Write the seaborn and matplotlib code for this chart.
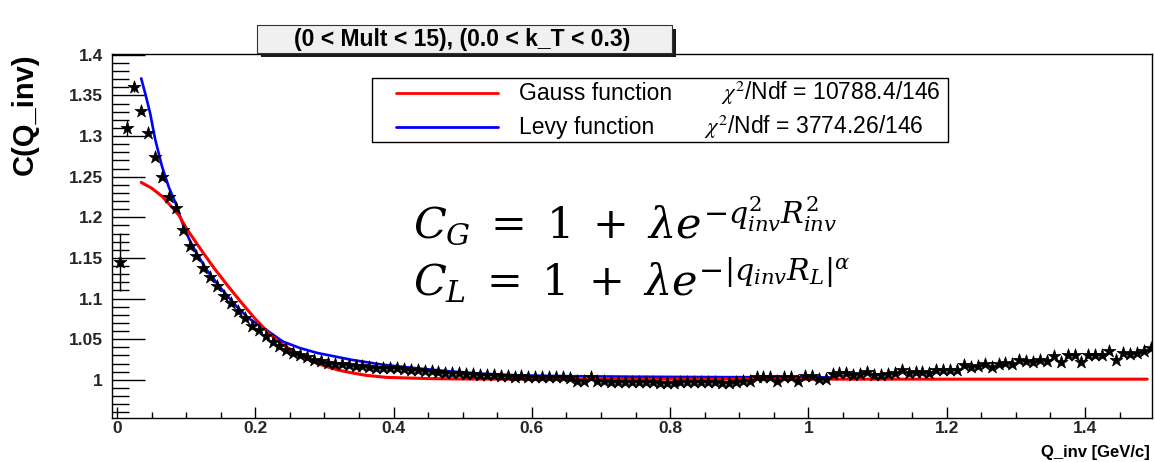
import numpy as np
import pandas as pd
import matplotlib
matplotlib.use('Agg')
import matplotlib.pyplot as plt
import seaborn as sns
from matplotlib.ticker import MultipleLocator, FuncFormatter
from matplotlib.patches import Rectangle
from matplotlib.lines import Line2D

# ---------------- data ----------------
q_bins = np.round(np.arange(150) * 0.01 + 0.005, 3)   # bin centres, GeV/c
c_data = [
    1.145, 1.310, 1.360, 1.331, 1.304, 1.274, 1.250, 1.225, 1.211, 1.184,
    1.165, 1.152, 1.138, 1.127, 1.116, 1.103, 1.094, 1.085, 1.076, 1.066,
    1.061, 1.054, 1.047, 1.042, 1.037, 1.033, 1.030, 1.028, 1.025, 1.023,
    1.021, 1.020, 1.019, 1.018, 1.017, 1.017, 1.016, 1.015, 1.015, 1.014,
    1.014, 1.013, 1.012, 1.012, 1.011, 1.011, 1.010, 1.009, 1.009, 1.008,
    1.007, 1.007, 1.006, 1.006, 1.006, 1.005, 1.005, 1.004, 1.005, 1.004,
    1.004, 1.004, 1.003, 1.004, 1.003, 1.002, 0.999, 0.999, 1.003, 0.998,
    0.998, 0.997, 0.997, 0.997, 0.997, 0.997, 0.997, 0.997, 0.996, 0.996,
    0.996, 0.997, 0.997, 0.997, 0.997, 0.997, 0.997, 0.996, 0.996, 0.997,
    0.998, 0.999, 1.004, 1.004, 1.004, 0.998, 1.004, 1.004, 0.998, 1.005,
    1.005, 1.001, 1.001, 1.007, 1.008, 1.008, 1.006, 1.007, 1.010, 1.006,
    1.006, 1.007, 1.009, 1.012, 1.008, 1.010, 1.010, 1.008, 1.012, 1.012,
    1.012, 1.012, 1.018, 1.016, 1.017, 1.020, 1.016, 1.020, 1.021, 1.020,
    1.024, 1.023, 1.022, 1.024, 1.023, 1.029, 1.022, 1.030, 1.030, 1.022,
    1.030, 1.030, 1.030, 1.035, 1.024, 1.033, 1.032, 1.033, 1.036, 1.039,
]
c_err_first = [0.036, 0.010, 0.006, 0.004]

gauss_q = [0.035, 0.05, 0.065, 0.08, 0.09, 0.10, 0.12, 0.14, 0.16, 0.18, 0.20,
           0.21, 0.22, 0.24, 0.26, 0.28, 0.30, 0.32, 0.34, 0.36, 0.39, 0.45,
           0.50, 0.60, 1.49]
gauss_c = [1.243, 1.236, 1.226, 1.212, 1.202, 1.187, 1.162, 1.138, 1.116, 1.095,
           1.075, 1.066, 1.057, 1.043, 1.033, 1.024, 1.017, 1.012, 1.0085, 1.0055,
           1.003, 1.0015, 1.001, 1.0008, 1.0008]

levy_q = [0.035, 0.041, 0.048, 0.055, 0.065, 0.075, 0.085, 0.095, 0.105, 0.115,
          0.13, 0.15, 0.17, 0.19, 0.21, 0.24, 0.265, 0.29, 0.34, 0.385, 0.43,
          0.48, 0.53, 0.58, 0.65, 0.75, 0.85, 0.95, 1.03]
levy_c = [1.371, 1.352, 1.328, 1.297, 1.263, 1.237, 1.217, 1.192, 1.172, 1.156,
          1.135, 1.113, 1.093, 1.076, 1.065, 1.047, 1.039, 1.033, 1.0245, 1.0185,
          1.0145, 1.0105, 1.0075, 1.0055, 1.0045, 1.0038, 1.0034, 1.0031, 1.003]

title_text = "(0 < Mult < 15), (0.0 < k_T < 0.3)"
legend_names = ["Gauss function", "Levy function"]
legend_chi2 = [r"$\chi^2$/Ndf = 10788.4/146", r"$\chi^2$/Ndf = 3774.26/146"]
formula_1 = r"$C_G\;=\;1\;+\;\lambda e^{-q_{inv}^2 R_{inv}^2}$"
formula_2 = r"$C_L\;=\;1\;+\;\lambda e^{-|q_{inv} R_L|^{\alpha}}$"

# ---------------- style ----------------
sns.set_theme(style='white')
plt.rcParams['font.family'] = ['Liberation Sans', 'DejaVu Sans']
plt.rcParams['mathtext.fontset'] = 'stix'

W, H = 1155, 462
fig = plt.figure(figsize=(W / 100, H / 100), dpi=100)
fig.patch.set_facecolor('white')


def fx(x):
    return x / W


def fy(y):
    return 1 - y / H


ax = fig.add_axes([fx(112), fy(418), (1152 - 112) / W, (418 - 54) / H])
ax.set_facecolor('white')

RED = '#ff0000'
BLUE = '#0000ff'

df_pts = pd.DataFrame({'q': q_bins, 'c': c_data})
df_g = pd.DataFrame({'q': gauss_q, 'c': gauss_c})
df_l = pd.DataFrame({'q': levy_q, 'c': levy_c})

sns.lineplot(data=df_l, x='q', y='c', ax=ax, color=BLUE, lw=1.9,
             estimator=None, sort=False, zorder=2)
sns.lineplot(data=df_g, x='q', y='c', ax=ax, color=RED, lw=2.2,
             estimator=None, sort=False, zorder=2.5)
ax.errorbar(q_bins[:len(c_err_first)], c_data[:len(c_err_first)],
            yerr=c_err_first, xerr=0.005, fmt='none', ecolor='black',
            elinewidth=1.0, zorder=3)
sns.scatterplot(data=df_pts, x='q', y='c', ax=ax, marker='*', s=95,
                color='black', edgecolor='black', linewidth=0.5, zorder=4,
                legend=False)

ax.set_xlim(-0.0072, 1.497)
ax.set_ylim(0.953, 1.401)
ax.set_xlabel('')
ax.set_ylabel('')

fmt = FuncFormatter(lambda v, p: ('%g' % round(v, 3)))
ax.xaxis.set_major_locator(MultipleLocator(0.2))
ax.xaxis.set_minor_locator(MultipleLocator(0.05))
ax.yaxis.set_major_locator(MultipleLocator(0.05))
ax.yaxis.set_minor_locator(MultipleLocator(0.01))
ax.xaxis.set_major_formatter(fmt)
ax.yaxis.set_major_formatter(fmt)

ax.tick_params(axis='y', which='major', direction='in', length=23.5, width=1.0,
               left=True, right=False, labelsize=12.5, pad=6.5, color='black')
ax.tick_params(axis='y', which='minor', direction='in', length=12, width=1.0,
               left=True, right=False, color='black')
ax.tick_params(axis='x', which='major', direction='in', length=8, width=1.0,
               bottom=True, top=False, labelsize=12.5, pad=2.5, color='black')
ax.tick_params(axis='x', which='minor', direction='in', length=4, width=1.0,
               bottom=True, top=False, color='black')
for lab in ax.get_xticklabels() + ax.get_yticklabels():
    lab.set_fontweight('bold')

for s in ax.spines.values():
    s.set_visible(True)
    s.set_color('black')
    s.set_linewidth(1.0)

# ---------------- axis titles ----------------
fig.text(fx(24.5), fy(114), 'C(Q_inv)', rotation=90, ha='center', va='center',
         fontsize=21, fontweight='bold', color='black')
fig.text(fx(1150), fy(452), 'Q_inv [GeV/c]', ha='right', va='center',
         fontsize=12, fontweight='bold', color='black')

# ---------------- title box ----------------
fig.add_artist(Rectangle((fx(261), fy(57)), (672 - 257) / W, 28 / H,
                         transform=fig.transFigure, facecolor='#1a1a1a',
                         edgecolor='none', zorder=5))
fig.add_artist(Rectangle((fx(257), fy(53)), (672 - 257) / W, 28 / H,
                         transform=fig.transFigure, facecolor='#f0f0f0',
                         edgecolor='#333333', lw=0.8, zorder=6))
fig.text(fx(462), fy(39.5), title_text, ha='center', va='center',
         fontsize=16.5, fontweight='bold', color='black', zorder=7)

# ---------------- legend ----------------
fig.add_artist(Rectangle((fx(372), fy(142)), (948 - 372) / W, (142 - 78) / H,
                         transform=fig.transFigure, facecolor='white',
                         edgecolor='black', lw=1.0, zorder=5))
for yrow, col, name, chi, xchi in zip([93, 127], [RED, BLUE], legend_names,
                                      legend_chi2, [721, 704]):
    fig.add_artist(Line2D([fx(396), fx(498)], [fy(yrow), fy(yrow)],
                          transform=fig.transFigure, color=col, lw=2.0,
                          zorder=6))
    fig.text(fx(519), fy(yrow), name, ha='left', va='center', fontsize=16.5,
             color='black', zorder=7)
    fig.text(fx(xchi), fy(yrow), chi, ha='left', va='center', fontsize=16.5,
             color='black', zorder=7)

# ---------------- formulas ----------------
t1 = fig.text(fx(413), fy(238), formula_1, ha='left', va='baseline',
              fontsize=31, color='black')
t2 = fig.text(fx(413), fy(296), formula_2, ha='left', va='baseline',
              fontsize=31, color='black')
for t in (t1, t2):
    t.set_math_fontfamily('dejavuserif')

fig.savefig('out.png', dpi=100, facecolor='white')
